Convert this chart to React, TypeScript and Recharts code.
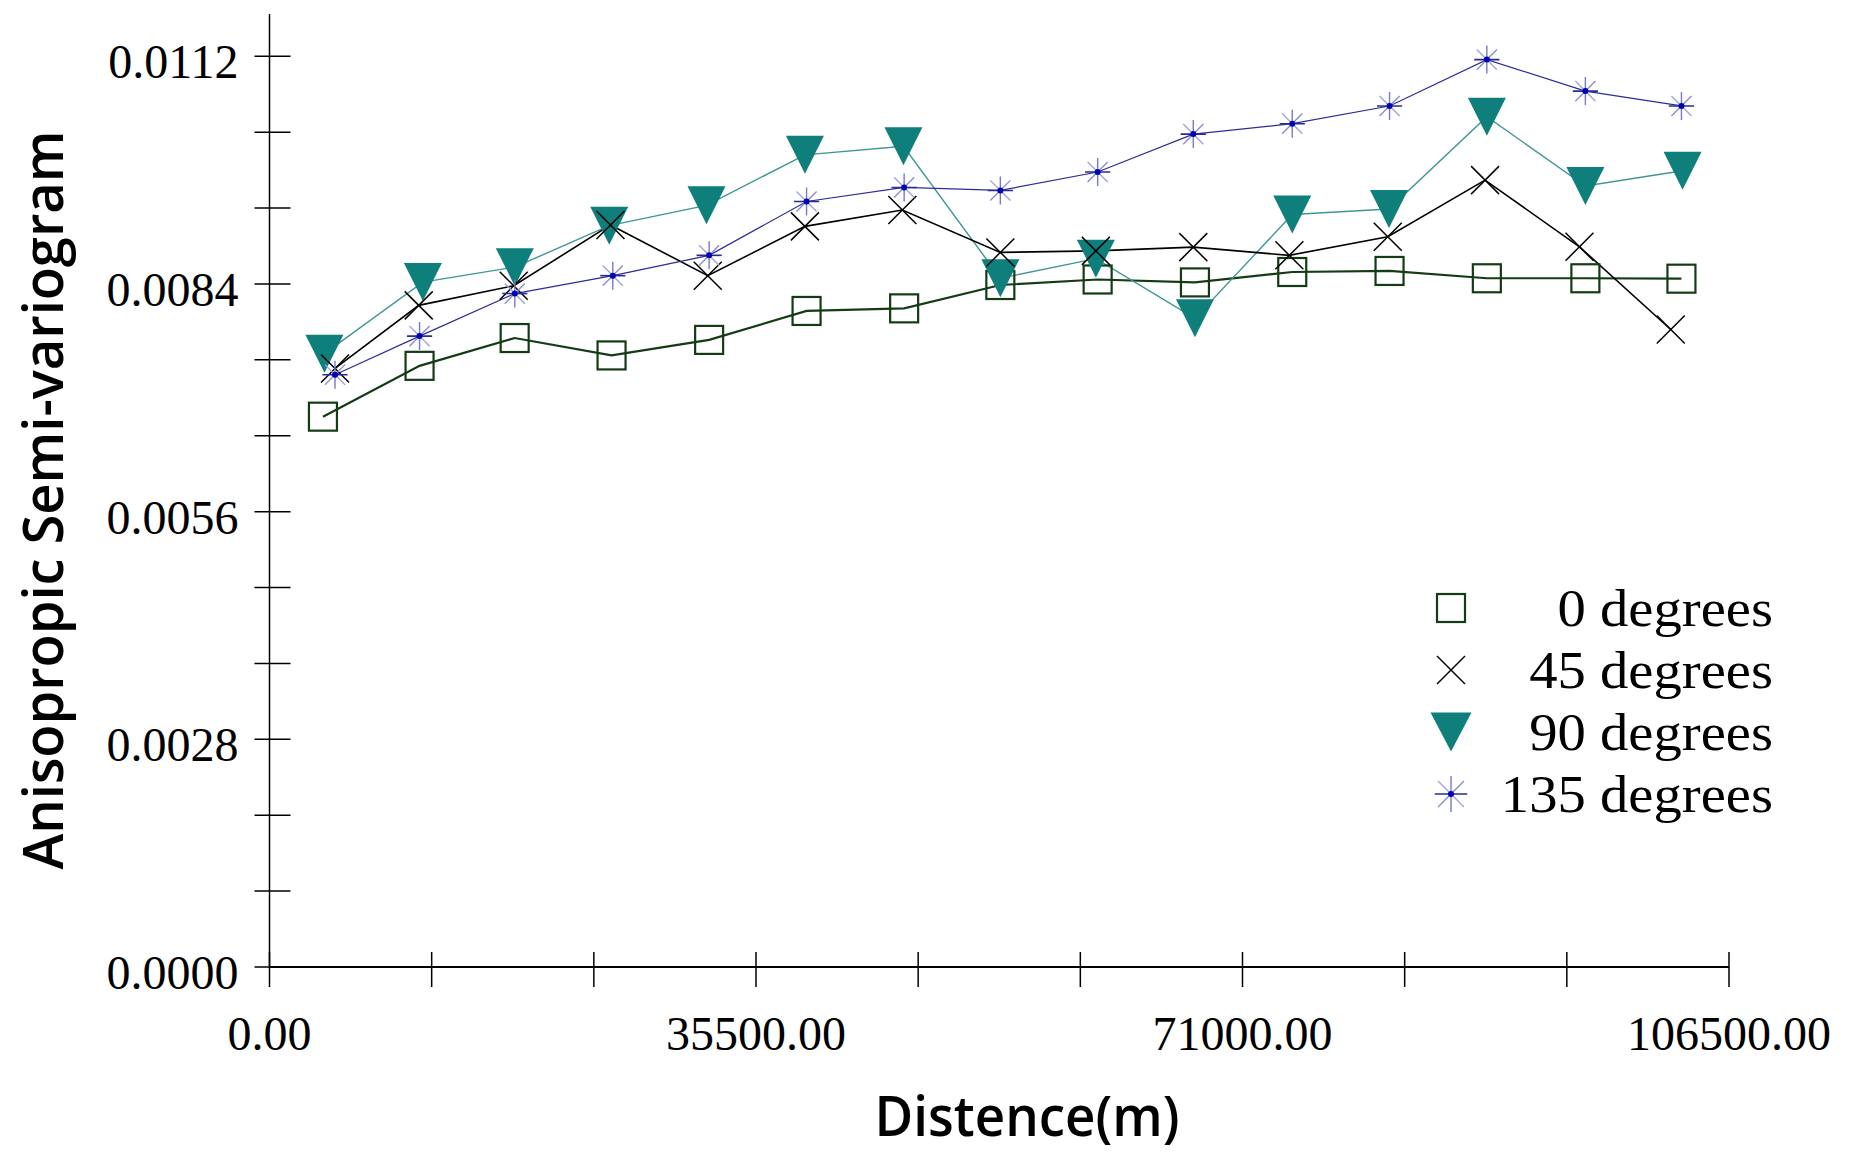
import React from 'react';
import { LineChart, Line, XAxis, YAxis } from 'recharts';

// Directional semi-variogram (lag distance in m, gamma)
const directions = ['0 degrees', '45 degrees', '90 degrees', '135 degrees'];

const dist0 = [3900, 10950, 17890, 24960, 32080, 39190, 46310, 53330, 60430, 67530, 74630, 81730, 88830, 96020, 103030];
const gamma0 = [0.006768, 0.007393, 0.007735, 0.007521, 0.007712, 0.008068, 0.0081, 0.008387, 0.008455, 0.008419, 0.008547, 0.00856, 0.00847, 0.00847, 0.008465];

const dist45 = [4780, 10890, 17820, 24880, 31980, 39070, 46180, 53330, 60300, 67410, 74420, 81600, 88700, 95590, 102250];
const gamma45 = [0.007361, 0.008137, 0.008378, 0.009126, 0.008502, 0.009108, 0.009309, 0.008788, 0.008807, 0.008853, 0.008752, 0.00898, 0.009677, 0.008857, 0.00784];

const dist90 = [4010, 11190, 17900, 24790, 31890, 39070, 46260, 53330, 60300, 67530, 74630, 81690, 88830, 96020, 103110];
const gamma90 = [0.007543, 0.008423, 0.008607, 0.009117, 0.009367, 0.009988, 0.010093, 0.00847, 0.008711, 0.007977, 0.009254, 0.009322, 0.010457, 0.009604, 0.009792];

const dist135 = [4780, 10950, 17900, 25050, 32080, 39190, 46310, 53330, 60430, 67410, 74630, 81730, 88830, 96020, 103030];
const gamma135 = [0.007284, 0.007759, 0.008282, 0.008502, 0.008752, 0.009414, 0.009587, 0.00955, 0.009777, 0.010243, 0.010371, 0.010589, 0.011159, 0.010772, 0.010589];

const xTicks = [0, 11833.33, 23666.67, 35500, 47333.33, 59166.67, 71000, 82833.33, 94666.67, 106500];
const xLabelled = [0, 35500, 71000, 106500];
const yTicks = [0, 0.00093333, 0.00186667, 0.0028, 0.00373333, 0.00466667, 0.0056, 0.00653333, 0.00746667, 0.0084, 0.00933333, 0.01026667, 0.0112];
const yLabelled = [0, 0.0028, 0.0056, 0.0084, 0.0112];

const toPoints = (dist: number[], gamma: number[]) => dist.map((d, i) => ({ dist: d, gamma: gamma[i] }));

const SERIF = '"Liberation Serif", "Times New Roman", serif';
const SANS = '"Open Sans", "Noto Sans", sans-serif';

const GREEN = '#133c14';
const TEAL = '#0e7f7b';
const TEAL_LINE = '#3f9795';
const NAVY = '#2c2c9c';

const SquareMark = ({ cx, cy, s = 14 }: any) => (
  <rect x={cx - s} y={cy - s} width={s * 2} height={s * 2} fill="none" stroke={GREEN} strokeWidth={2.2} />
);

const CrossMark = ({ cx, cy, s = 14 }: any) => (
  <g stroke="#000" strokeWidth={1.5}>
    <line x1={cx - s} y1={cy - s} x2={cx + s} y2={cy + s} />
    <line x1={cx - s} y1={cy + s} x2={cx + s} y2={cy - s} />
  </g>
);

const TriangleMark = ({ cx, cy, w = 19, h = 19 }: any) => (
  <polygon points={`${cx - w},${cy - h} ${cx + w},${cy - h} ${cx},${cy + h}`} fill={TEAL} />
);

const StarMark = ({ cx, cy, s = 14 }: any) => (
  <g>
    <line x1={cx} y1={cy - s} x2={cx} y2={cy + s} stroke="#7878cc" strokeWidth={1.4} />
    <line x1={cx - s * 0.72} y1={cy - s * 0.72} x2={cx + s * 0.72} y2={cy + s * 0.72} stroke="#a4a4dc" strokeWidth={1.4} />
    <line x1={cx - s * 0.72} y1={cy + s * 0.72} x2={cx + s * 0.72} y2={cy - s * 0.72} stroke="#8c8cd4" strokeWidth={1.4} />
    <line x1={cx - s * 0.9} y1={cy} x2={cx + s * 0.9} y2={cy} stroke="#2a2a96" strokeWidth={1.6} />
    <circle cx={cx} cy={cy} r={3} fill="#0000b4" />
  </g>
);

const YTick = (props: any) => {
  const { x, y, payload } = props;
  const labelled = yLabelled.some((v) => Math.abs(v - payload.value) < 1e-7);
  return (
    <g>
      <line x1={x - 15} y1={y} x2={x + 21} y2={y} stroke="#000" strokeWidth={1.5} />
      {labelled && (
        <text x={x - 31} y={y + 22} textAnchor="end" fontFamily={SERIF} fontSize={48} fill="#000">
          {payload.value.toFixed(4)}
        </text>
      )}
    </g>
  );
};

const XTick = (props: any) => {
  const { x, y, payload } = props;
  const labelled = xLabelled.some((v) => Math.abs(v - payload.value) < 1);
  return (
    <g>
      <line x1={x} y1={y - 15} x2={x} y2={y + 20} stroke="#000" strokeWidth={1.5} />
      {labelled && (
        <text x={x} y={y + 83} textAnchor="middle" fontFamily={SERIF} fontSize={48} fill="#000">
          {payload.value.toFixed(2)}
        </text>
      )}
    </g>
  );
};

const legendMarks = [SquareMark, CrossMark, TriangleMark, StarMark];

const Overlay = () => (
  <svg width={1850} height={1162} style={{ position: 'absolute', left: 0, top: 0, pointerEvents: 'none' }}>
    <text
      transform="translate(63,500) rotate(-90)"
      textAnchor="middle"
      fontFamily={SANS}
      fontWeight={600}
      fontSize={56}
      textLength={739}
      lengthAdjust="spacingAndGlyphs"
      fill="#000"
    >
      Anisopropic Semi-variogram
    </text>
    <text
      x={1027}
      y={1136}
      textAnchor="middle"
      fontFamily={SANS}
      fontWeight={600}
      fontSize={56}
      textLength={305}
      lengthAdjust="spacingAndGlyphs"
      fill="#000"
    >
      Distence(m)
    </text>
    {directions.map((name, i) => {
      const Mark = legendMarks[i];
      const my = 608 + i * 62;
      const ty = 626 + i * 62;
      return (
        <g key={name}>
          {i === 2 ? <Mark cx={1451} cy={my} w={20.5} h={19.5} /> : <Mark cx={1451} cy={my} s={i === 3 ? 18 : 14} />}
          <text
            transform={`translate(1773,${ty}) scale(1.09,1)`}
            textAnchor="end"
            fontFamily={SERIF}
            fontSize={52}
            fill="#000"
          >
            {name}
          </text>
        </g>
      );
    })}
  </svg>
);

export default function App() {
  const s0 = toPoints(dist0, gamma0);
  const s45 = toPoints(dist45, gamma45);
  const s90 = toPoints(dist90, gamma90);
  const s135 = toPoints(dist135, gamma135);

  return (
    <div style={{ position: 'absolute', left: 0, top: 0, width: 1850, height: 1162, background: '#fff' }}>
      <LineChart width={1850} height={1162} margin={{ top: 14, right: 121, bottom: 95, left: 0 }}>
        <XAxis
          type="number"
          dataKey="dist"
          domain={[0, 106500]}
          ticks={xTicks}
          interval={0}
          allowDataOverflow
          height={100}
          tickLine={false}
          tickSize={0}
          tickMargin={0}
          axisLine={{ stroke: '#000', strokeWidth: 2.2 }}
          tick={(p: any) => <XTick {...p} />}
        />
        <YAxis
          type="number"
          dataKey="gamma"
          domain={[0, 0.01172]}
          ticks={yTicks}
          interval={0}
          allowDataOverflow
          width={269.5}
          tickLine={false}
          tickSize={0}
          tickMargin={0}
          axisLine={{ stroke: '#000', strokeWidth: 1.5 }}
          tick={(p: any) => <YTick {...p} />}
        />
        <Line
          data={s0}
          dataKey="gamma"
          name={directions[0]}
          stroke={GREEN}
          strokeWidth={2.2}
          isAnimationActive={false}
          dot={(p: any) => <SquareMark key={`s0-${p.index}`} cx={p.cx} cy={p.cy} />}
          activeDot={false}
        />
        <Line
          data={s90}
          dataKey="gamma"
          name={directions[2]}
          stroke={TEAL_LINE}
          strokeWidth={1.4}
          isAnimationActive={false}
          dot={(p: any) => <TriangleMark key={`s90-${p.index}`} cx={p.cx} cy={p.cy} />}
          activeDot={false}
        />
        <Line
          data={s45}
          dataKey="gamma"
          name={directions[1]}
          stroke="#000"
          strokeWidth={1.6}
          isAnimationActive={false}
          dot={(p: any) => <CrossMark key={`s45-${p.index}`} cx={p.cx} cy={p.cy} />}
          activeDot={false}
        />
        <Line
          data={s135}
          dataKey="gamma"
          name={directions[3]}
          stroke={NAVY}
          strokeWidth={1.2}
          isAnimationActive={false}
          dot={(p: any) => <StarMark key={`s135-${p.index}`} cx={p.cx} cy={p.cy} />}
          activeDot={false}
        />
      </LineChart>
      <Overlay />
    </div>
  );
}
